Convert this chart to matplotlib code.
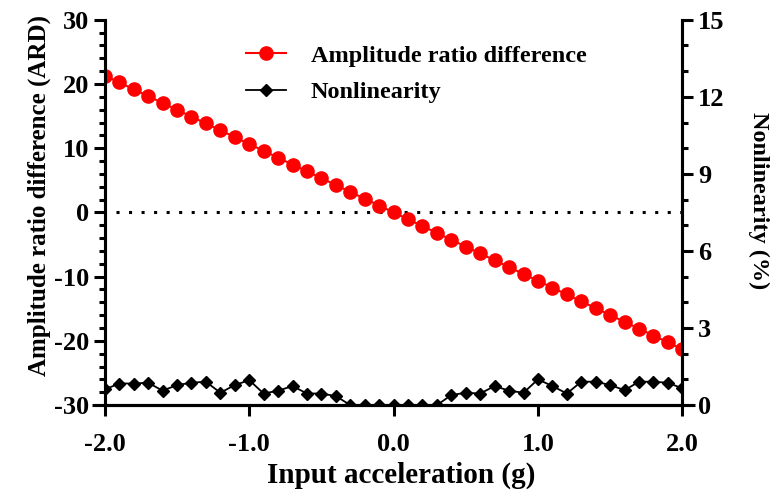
import matplotlib
matplotlib.use("Agg")
import matplotlib.pyplot as plt
from matplotlib.ticker import MultipleLocator

plt.rcParams['font.family'] = ['Liberation Serif', 'DejaVu Serif']
plt.rcParams['font.weight'] = 'bold'
plt.rcParams['axes.unicode_minus'] = False

accel = [-2.0, -1.9, -1.8, -1.7, -1.6, -1.5, -1.4, -1.3, -1.2, -1.1, -1.0,
         -0.9, -0.8, -0.7, -0.6, -0.5, -0.4, -0.3, -0.2, -0.1, 0.0,
         0.1, 0.2, 0.3, 0.4, 0.5, 0.6, 0.7, 0.8, 0.9, 1.0,
         1.1, 1.2, 1.3, 1.4, 1.5, 1.6, 1.7, 1.8, 1.9, 2.0]
ard = [21.3, 20.24, 19.17, 18.11, 17.04, 15.98, 14.91, 13.85, 12.78, 11.72, 10.65,
       9.59, 8.52, 7.46, 6.39, 5.33, 4.26, 3.20, 2.13, 1.07, 0.0,
       -1.07, -2.13, -3.20, -4.26, -5.33, -6.39, -7.46, -8.52, -9.59, -10.65,
       -11.72, -12.78, -13.85, -14.91, -15.98, -17.04, -18.11, -19.17, -20.24, -21.3]
nonlin = [0.61, 0.84, 0.84, 0.87, 0.56, 0.78, 0.87, 0.91, 0.48, 0.78, 0.97,
          0.45, 0.56, 0.74, 0.45, 0.45, 0.35, 0.0, 0.0, 0.0, 0.0,
          0.0, 0.0, 0.0, 0.39, 0.48, 0.45, 0.74, 0.56, 0.48, 1.0,
          0.74, 0.45, 0.91, 0.91, 0.78, 0.58, 0.91, 0.91, 0.87, 0.65]
xticks = [-2.0, -1.0, 0.0, 1.0, 2.0]
xticklabels = ['-2.0', '-1.0', '0.0', '1.0', '2.0']

fig = plt.figure(figsize=(7.71, 4.94), dpi=100)
ax = fig.add_axes([0.136, 0.180, 0.749, 0.780])
ax2 = ax.twinx()

lw = 2.2
for a in (ax, ax2):
    for s in a.spines.values():
        s.set_linewidth(lw)
    a.spines['top'].set_visible(False)

ax.plot([-1.92, 2], [0, 0], color='black', linestyle=(0, (1, 3.1)), linewidth=2.2, zorder=1)
l1, = ax.plot(accel, ard, color='red', marker='o', markersize=9.5, linewidth=1.5,
              label='Amplitude ratio difference', zorder=3)
l2, = ax2.plot(accel, nonlin, color='black', marker='D', markersize=6.5, linewidth=1.3,
               label='Nonlinearity', zorder=3)

ax.set_xlim(-2.0, 2.0)
ax.set_ylim(-30, 30)
ax2.set_ylim(0, 15)
ax.set_xticks(xticks)
ax.set_xticklabels(xticklabels)
ax.yaxis.set_major_locator(MultipleLocator(10))
ax.yaxis.set_minor_locator(MultipleLocator(2))
ax2.yaxis.set_major_locator(MultipleLocator(3))
ax2.yaxis.set_minor_locator(MultipleLocator(1))

ax.tick_params(axis='both', which='major', length=8, width=lw, labelsize=19, direction='out')
ax.tick_params(axis='x', which='major', pad=12)
ax.tick_params(axis='y', which='minor', length=4.5, width=lw)
ax2.tick_params(axis='y', which='major', length=8, width=lw, labelsize=19, direction='out')
ax2.tick_params(axis='y', which='minor', length=4.5, width=lw)

ax.set_xlabel('Input acceleration (g)', fontsize=21, fontweight='bold', labelpad=4)
ax.xaxis.label.set_x(0.513)
ax.set_ylabel('Amplitude ratio difference (ARD)', fontsize=18, fontweight='bold', labelpad=2)
ax.yaxis.label.set_y(0.545)
ax2.set_ylabel('Nonlinearity (%)', fontsize=17.5, fontweight='bold', rotation=270, labelpad=32)
ax2.yaxis.label.set_y(0.53)

# bottom axis line extending past the vertical axes
ax.plot([-2.09, 2.09], [-30, -30], color='black', linewidth=lw, clip_on=False, zorder=5,
        solid_capstyle='butt')

leg = ax.legend(handles=[l1, l2], loc='upper left', bbox_to_anchor=(0.245, 0.935),
                frameon=False, fontsize=17.5, handlelength=1.65, handletextpad=1.0,
                labelspacing=0.6, borderaxespad=0.0, borderpad=0.0)
for t in leg.get_texts():
    t.set_fontweight('bold')

fig.savefig('out.png', dpi=100)
